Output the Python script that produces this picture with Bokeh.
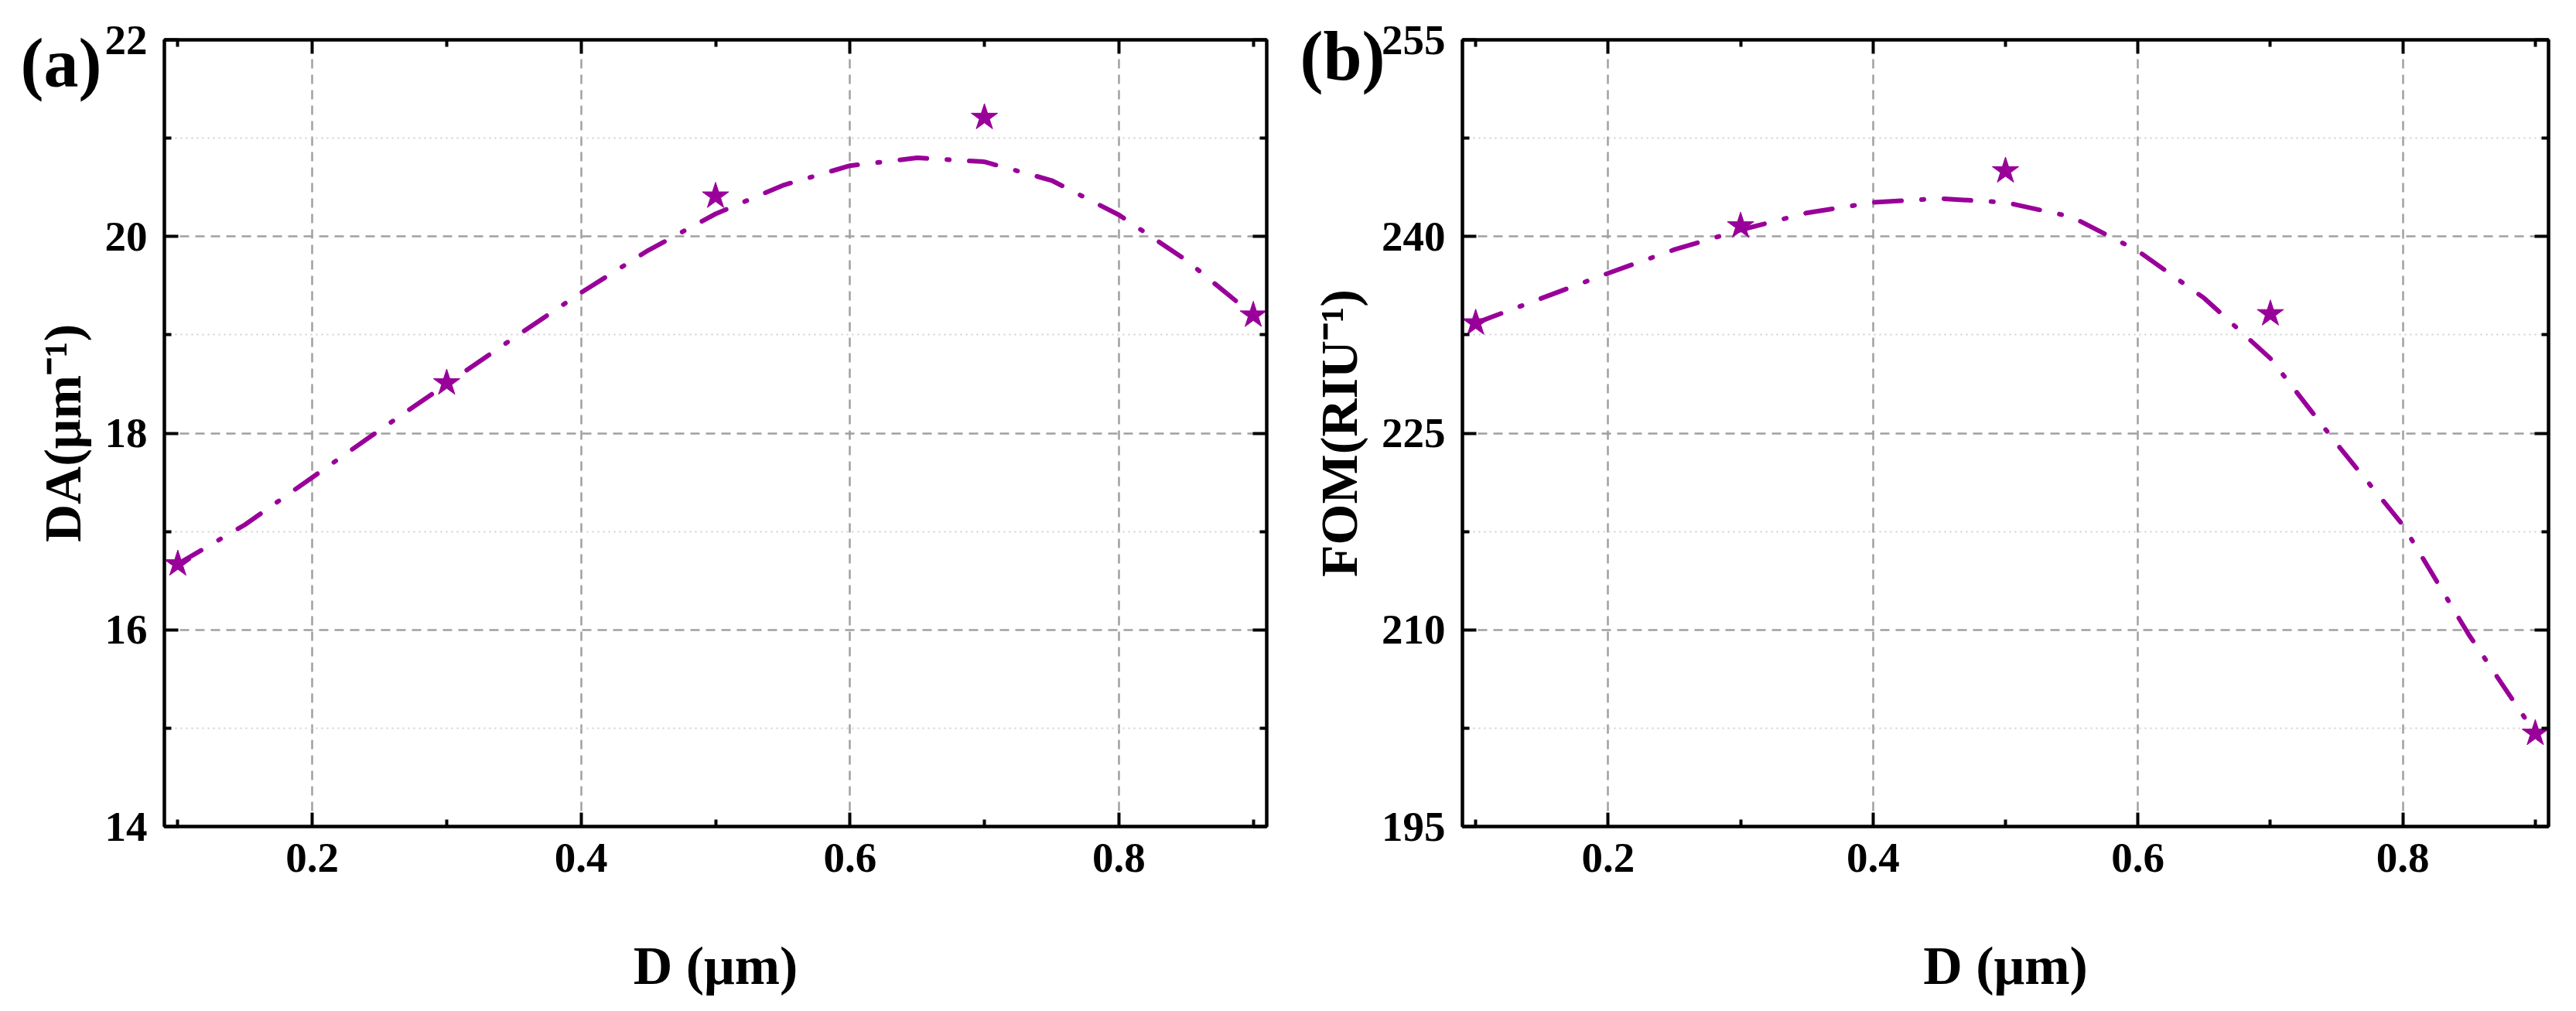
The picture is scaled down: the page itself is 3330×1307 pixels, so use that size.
import math
from bokeh.plotting import figure
from bokeh.models import FixedTicker, LinearAxis, Title, Range1d
from bokeh.layouts import row
from bokeh.embed import file_html
from bokeh.resources import INLINE

# ---------------- data ----------------
D_points = [0.1, 0.3, 0.5, 0.7, 0.9]
DA_points = [16.67, 18.51, 20.41, 21.21, 19.20]
FOM_points = [233.4, 240.8, 245.0, 234.1, 202.1]

D_fit = [0.10, 0.15, 0.20, 0.25, 0.30, 0.35, 0.40, 0.45, 0.50,
         0.55, 0.60, 0.65, 0.70, 0.75, 0.80, 0.85, 0.90]
DA_fit = [16.67, 17.07, 17.55, 18.03, 18.50, 18.97, 19.43, 19.86, 20.23,
          20.52, 20.72, 20.80, 20.76, 20.57, 20.22, 19.76, 19.20]
FOM_fit = [233.4, 235.3, 237.2, 239.0, 240.5, 241.8, 242.6, 242.9, 242.6,
           241.5, 238.9, 235.3, 230.7, 224.2, 218.0, 209.6, 202.1]

x_major = [0.2, 0.4, 0.6, 0.8]
x_minor = [0.1, 0.3, 0.5, 0.7, 0.9]
da_major = [14, 16, 18, 20, 22]
da_minor = [15, 17, 19, 21]
fom_major = [195, 210, 225, 240, 255]
fom_minor = [202.5, 217.5, 232.5, 247.5]

PURPLE = "#990099"
FONT = "Liberation Serif"


def mirror_axis(ticker):
    return LinearAxis(ticker=ticker, major_label_text_font_size="1px",
                      major_label_text_color=None, major_label_standoff=0,
                      axis_line_width=4, major_tick_line_width=4, minor_tick_line_width=4,
                      major_tick_in=18, major_tick_out=0, minor_tick_in=9, minor_tick_out=0)


def style(p, xt, yt, ytitle, ystandoff):
    p.outline_line_color = "black"
    p.outline_line_width = 4
    p.background_fill_color = "white"
    p.border_fill_color = "white"
    for ax in p.xaxis:
        ax.ticker = xt
    for ax in p.yaxis:
        ax.ticker = yt
    for ax in list(p.xaxis) + list(p.yaxis):
        ax.axis_line_width = 4
        ax.major_tick_line_width = 4
        ax.minor_tick_line_width = 4
        ax.major_tick_in = 18
        ax.major_tick_out = 0
        ax.minor_tick_in = 9
        ax.minor_tick_out = 0
        ax.major_label_text_font = FONT
        ax.major_label_text_font_style = "bold"
        ax.major_label_text_font_size = "55px"
        ax.major_label_text_color = "black"
        ax.major_label_standoff = 22
        ax.axis_label_text_font = FONT
        ax.axis_label_text_font_style = "bold"
        ax.axis_label_text_color = "black"
    p.xaxis.axis_label = "D (μm)"
    p.xaxis.axis_label_text_font_size = "70px"
    p.xaxis.axis_label_standoff = 80
    p.yaxis.axis_label = ytitle
    p.yaxis.axis_label_text_font_size = "68px"
    p.yaxis.axis_label_standoff = ystandoff
    p.add_layout(mirror_axis(xt), "above")
    p.add_layout(mirror_axis(yt), "right")
    p.xgrid.grid_line_color = "#a0a0a0"
    p.xgrid.grid_line_width = 2.5
    p.xgrid.grid_line_dash = "12 8"
    p.ygrid.grid_line_color = "#a0a0a0"
    p.ygrid.grid_line_width = 2.5
    p.ygrid.grid_line_dash = "12 8"
    p.ygrid.minor_grid_line_color = "#cfcfcf"
    p.ygrid.minor_grid_line_width = 2
    p.ygrid.minor_grid_line_dash = "2 5"


def panel_tag(p, offset, standoff, text):
    p.add_layout(Title(text=text, align="left", offset=offset, standoff=standoff,
                       vertical_align="bottom", text_font=FONT, text_font_style="bold",
                       text_font_size="90px", text_color="black"), "above")


# ---------------- panel (a) ----------------
p1 = figure(width=1657, height=1291, output_backend="svg", toolbar_location=None,
            x_range=Range1d(0.09, 0.91), y_range=Range1d(14, 22),
            min_border_left=212, min_border_right=20, min_border_top=42, min_border_bottom=218)
style(p1, FixedTicker(ticks=x_major, minor_ticks=x_minor),
      FixedTicker(ticks=da_major, minor_ticks=da_minor), "DA(μm⁻¹)", 14)
p1.line(D_fit, DA_fit, line_color=PURPLE, line_width=6, line_dash="35 26 3 26", line_cap="round")
p1.scatter(D_points, DA_points, marker="star", size=36, fill_color=PURPLE, line_color=PURPLE)
panel_tag(p1, -186, -158, "(a)")

# ---------------- panel (b) ----------------
p2 = figure(width=1657, height=1291, output_backend="svg", toolbar_location=None,
            x_range=Range1d(0.09, 0.91), y_range=Range1d(195, 255),
            min_border_left=233, min_border_right=20, min_border_top=51, min_border_bottom=223)
style(p2, FixedTicker(ticks=x_major, minor_ticks=x_minor),
      FixedTicker(ticks=fom_major, minor_ticks=fom_minor), "FOM(RIU⁻¹)", 14)
p2.line(D_fit, FOM_fit, line_color=PURPLE, line_width=6, line_dash="35 26 3 26", line_cap="round")
p2.scatter(D_points, FOM_points, marker="star", size=36, fill_color=PURPLE, line_color=PURPLE)
panel_tag(p2, -210, -140, "(b)")

layout = row(p1, p2)
open("out.html", "w").write(file_html(layout, INLINE))
